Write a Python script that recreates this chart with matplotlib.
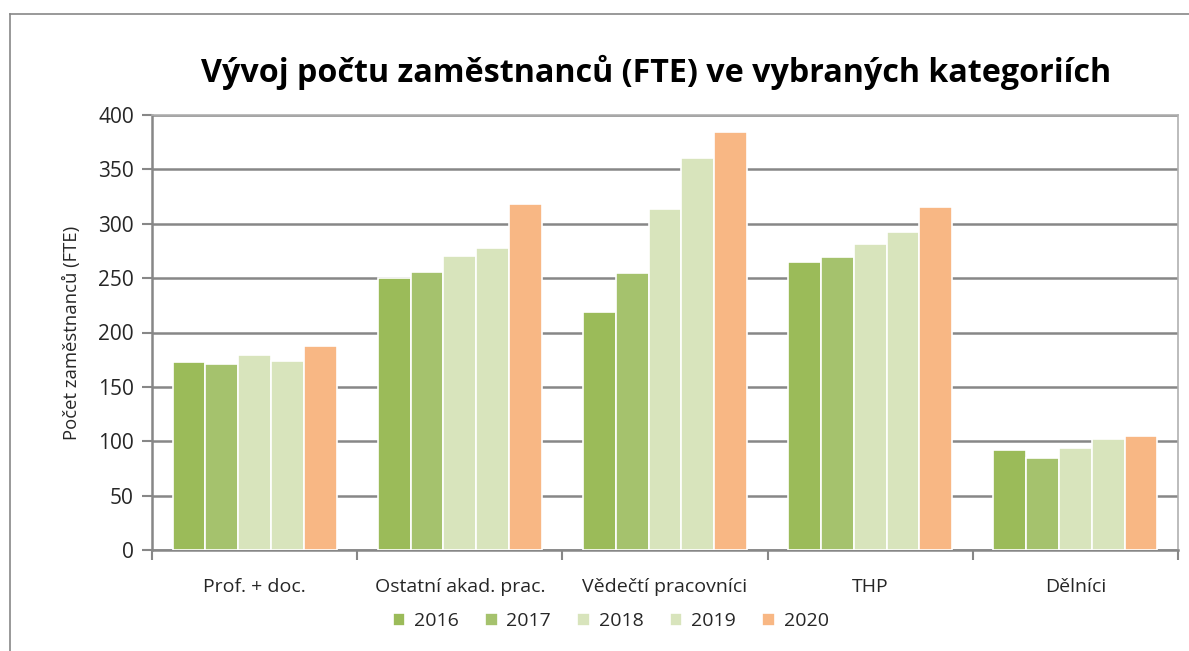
import matplotlib.pyplot as plt
import numpy as np
from matplotlib.lines import Line2D

plt.rcParams['font.family'] = ['Open Sans', 'DejaVu Sans']

categories = ["Prof. + doc.", "Ostatní akad. prac.", "Vědečtí pracovníci", "THP", "Dělníci"]
years = ["2016", "2017", "2018", "2019", "2020"]
fte_2016 = [173, 250, 219, 265, 92]
fte_2017 = [171, 256, 255, 269, 85]
fte_2018 = [179, 270, 314, 281, 94]
fte_2019 = [174, 278, 360, 292, 102]
fte_2020 = [188, 318, 384, 315, 105]
colors = ["#9BBB59", "#A5C26D", "#D8E4BC", "#D8E4BC", "#F8B784"]

series = [fte_2016, fte_2017, fte_2018, fte_2019, fte_2020]

W, H = 1189, 651
fig = plt.figure(figsize=(W / 100, H / 100), dpi=100)
ax = fig.add_axes([152 / W, 1 - 550 / H, 1026 / W, 435 / H])

x = np.arange(len(categories))
w = 0.16
for i, (vals, col, yr) in enumerate(zip(series, colors, years)):
    ax.bar(x + (i - 2) * w, vals, width=w, color=col, edgecolor="white",
           linewidth=1.2, label=yr, zorder=3)

ax.set_xlim(-0.5, len(categories) - 0.5)
ax.set_ylim(0, 400)
ax.set_yticks(range(0, 401, 50))
ax.yaxis.grid(True, color="#878787", linewidth=1.8, zorder=0)
ax.set_xticks(x)
ax.set_xticklabels(categories, fontsize=14, color="#262626")
ax.set_xticks(np.arange(-0.5, len(categories), 1), minor=True)
ax.tick_params(axis="x", which="major", length=0, pad=20)
ax.tick_params(axis="x", which="minor", length=7, width=1.5, color="#878787")
ax.tick_params(axis="y", length=7, width=1.5, color="#878787", labelsize=15,
               labelcolor="#262626", pad=6)
for side in ["left", "bottom"]:
    ax.spines[side].set_color("#878787")
    ax.spines[side].set_linewidth(1.8)
for side in ["top", "right"]:
    ax.spines[side].set_color("#B0B0B0")
    ax.spines[side].set_linewidth(1.2)

ax.set_ylabel("Počet zaměstnanců (FTE)", fontsize=13.3, color="#262626")
ax.yaxis.set_label_coords(-(152 - 81) / 1026, 0.5)

fig.text(656 / W, 1 - 72 / H, "Vývoj počtu zaměstnanců (FTE) ve vybraných kategoriích",
         ha="center", va="center", fontsize=23.2, fontweight="bold", color="#000000")

fig.legend(*ax.get_legend_handles_labels(), loc="center left",
           bbox_to_anchor=(375 / W, 1 - 621 / H), ncol=5, frameon=False,
           fontsize=14, handlelength=0.65, handleheight=0.65, handletextpad=0.45,
           columnspacing=1.35, labelcolor="#262626")

# outer chart frame (only top and left edges visible)
fig.add_artist(Line2D([10 / W, 10 / W], [0, 1 - 14 / H], color="#878787",
                      linewidth=1.2, transform=fig.transFigure))
fig.add_artist(Line2D([10 / W, 1], [1 - 14 / H, 1 - 14 / H], color="#878787",
                      linewidth=1.2, transform=fig.transFigure))

fig.savefig("out.png", dpi=100, facecolor="white")
